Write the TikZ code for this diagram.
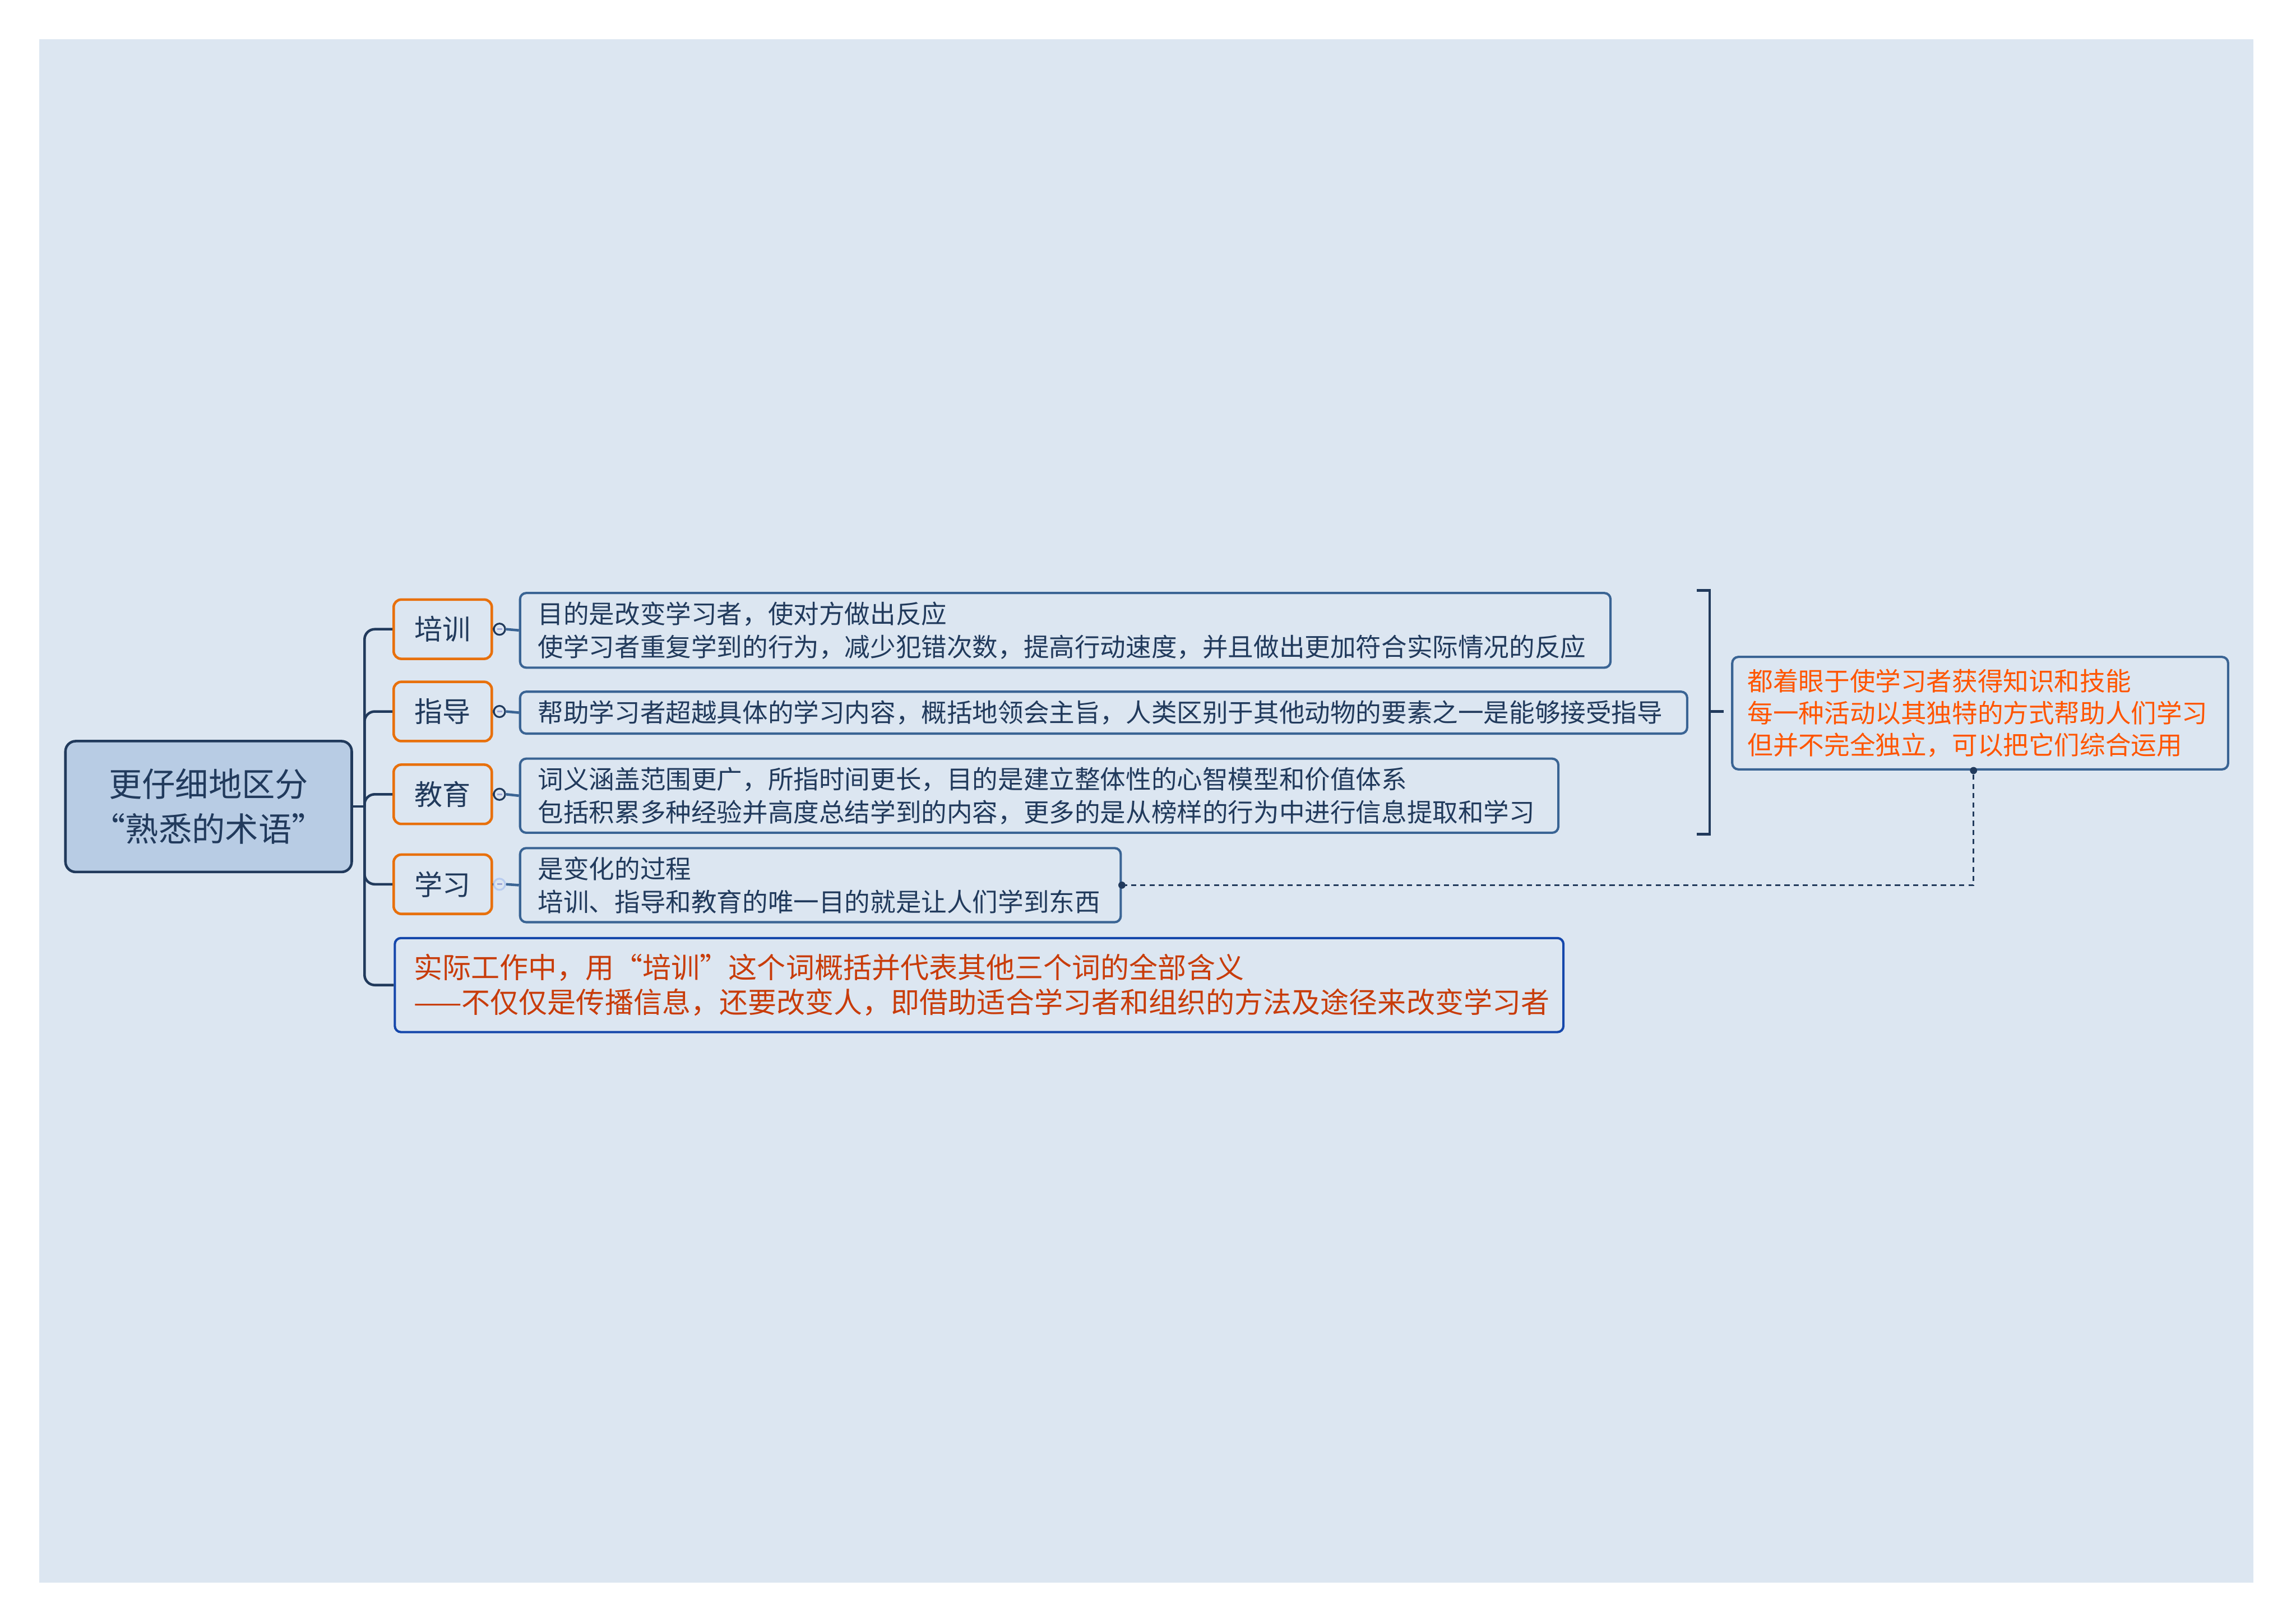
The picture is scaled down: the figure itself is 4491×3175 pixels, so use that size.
\documentclass[tikz,border=0pt]{standalone}
\usepackage{fontspec}
\newfontfamily\cjk{Noto Sans CJK SC}
\definecolor{bgc}{HTML}{DCE6F1}
\definecolor{cfill}{HTML}{B8CCE4}
\definecolor{navy}{HTML}{213A5C}
\definecolor{boxblue}{HTML}{3A6494}
\definecolor{orng}{HTML}{E8700C}
\definecolor{redblue}{HTML}{1547AB}
\definecolor{redtext}{HTML}{C83C0A}
\definecolor{sumtext}{HTML}{FF5500}
\definecolor{minuscol}{HTML}{A0A8D8}
\definecolor{lightcirc}{HTML}{B8CCF0}
\begin{document}
\begin{tikzpicture}[x=0.1pt,y=-0.1pt,
  central/.style={draw=navy, fill=cfill, line width=0.5pt, rounded corners=2pt,
    minimum width=56pt, minimum height=25.6pt, align=center, inner sep=0pt,
    font=\cjk\fontsize{6.5}{8.8}\selectfont, text=navy},
  topic/.style={draw=orng, line width=0.5pt, rounded corners=1.5pt,
    minimum width=19.2pt, minimum height=11.6pt, inner sep=0pt,
    font=\cjk\fontsize{5.5}{6}\selectfont, text=navy},
  detail/.style={draw=boxblue, line width=0.45pt, rounded corners=1.2pt, align=left,
    inner xsep=3.5pt, inner ysep=0pt, anchor=north west,
    font=\cjk\fontsize{5}{6.5}\selectfont, text=navy},
  btn/.style={circle, draw=navy, fill=bgc, line width=0.35pt, minimum size=2.2pt, inner sep=0pt},
  trunk/.style={draw=navy, line width=0.5pt, rounded corners=2pt},
  minusline/.style={draw=minuscol, line width=0.3pt}
]
\fill[white] (0,0) rectangle (4491,3175);
\fill[bgc] (77,77) rectangle (4408,3096);

% central topic
\node[central] (c) at (408,1578) {更仔细地区分\\“熟悉的术语”};

% main topics
\node[topic] (o1) at (866,1231) {培训};
\node[topic] (o2) at (866,1392) {指导};
\node[topic] (o3) at (866,1554) {教育};
\node[topic] (o4) at (866,1730) {学习};

% detail boxes
\node[detail, text width=206.3pt, minimum height=14.6pt] (d1) at (1015,1158)
  {目的是改变学习者，使对方做出反应\\使学习者重复学到的行为，减少犯错次数，提高行动速度，并且做出更加符合实际情况的反应};
\node[detail, text width=221.3pt, minimum height=8.2pt] (d2) at (1015,1351)
  {帮助学习者超越具体的学习内容，概括地领会主旨，人类区别于其他动物的要素之一是能够接受指导};
\node[detail, text width=196.1pt, minimum height=14.5pt] (d3) at (1015,1482)
  {词义涵盖范围更广，所指时间更长，目的是建立整体性的心智模型和价值体系\\包括积累多种经验并高度总结学到的内容，更多的是从榜样的行为中进行信息提取和学习};
\node[detail, text width=110.5pt, minimum height=14.5pt] (d4) at (1015,1657)
  {是变化的过程\\培训、指导和教育的唯一目的就是让人们学到东西};
\node[detail, draw=redblue, text=redtext, inner xsep=3.7pt, text width=221.2pt, minimum height=18.4pt,
  font=\cjk\fontsize{5.6}{6.8}\selectfont] (red) at (770,1833)
  {实际工作中，用“培训”这个词概括并代表其他三个词的全部含义\\——不仅仅是传播信息，还要改变人，即借助适合学习者和组织的方法及途径来改变学习者};
\node[detail, text=sumtext, inner xsep=3pt, text width=91pt, minimum height=22pt,
  font=\cjk\fontsize{5}{6.25}\selectfont] (sum) at (3386,1283)
  {都着眼于使学习者获得知识和技能\\每一种活动以其独特的方式帮助人们学习\\但并不完全独立，可以把它们综合运用};

% trunk connectors
\coordinate (j) at (713,1578);
\draw[trunk] (c.east) -- (j);
\draw[trunk] (j) |- (o1.west);
\draw[trunk] (j) |- (o2.west);
\draw[trunk] (j) |- (o3.west);
\draw[trunk] (j) |- (o4.west);
\draw[trunk] (j) |- (red.west);

% topic -> detail with collapse buttons
\foreach \i/\y in {1/1231,2/1392,3/1554} {
  \node[btn] (k\i) at (977,\y) {};
  \draw[navy, line width=0.5pt] (o\i.east) -- (k\i.west);
  \draw[boxblue, line width=0.5pt] (k\i.east) -- (d\i.west);
  \draw[minusline] ([xshift=-0.5pt]k\i.center) -- ([xshift=0.5pt]k\i.center);
}
\node[btn, draw=lightcirc] (k4) at (977,1730) {};
\draw[navy, line width=0.5pt] (o4.east) -- (k4.west);
\draw[boxblue, line width=0.5pt] (k4.east) -- (d4.west);
\draw[minusline] ([xshift=-0.5pt]k4.center) -- ([xshift=0.5pt]k4.center);

% bracket (summary)
\coordinate (bt) at (3319,1155);
\coordinate (bb) at (3319,1632);
\coordinate (bm) at (3344,1392);
\coordinate (bmr) at (3372,1392);
\draw[navy, line width=0.5pt] (bt) -- (3344,1155) -- (3344,1632) -- (bb);
\draw[navy, line width=0.55pt] (bm) -- (bmr);

% dashed relation
\coordinate (sd) at ([xshift=-1.3pt]sum.south);
\draw[navy, line width=0.35pt, dash pattern=on 1pt off 0.8pt] (d4.east) -| (sd);
\fill[navy] (d4.east) circle (0.7pt);
\fill[navy] (sd) circle (0.7pt);
\end{tikzpicture}
\end{document}
